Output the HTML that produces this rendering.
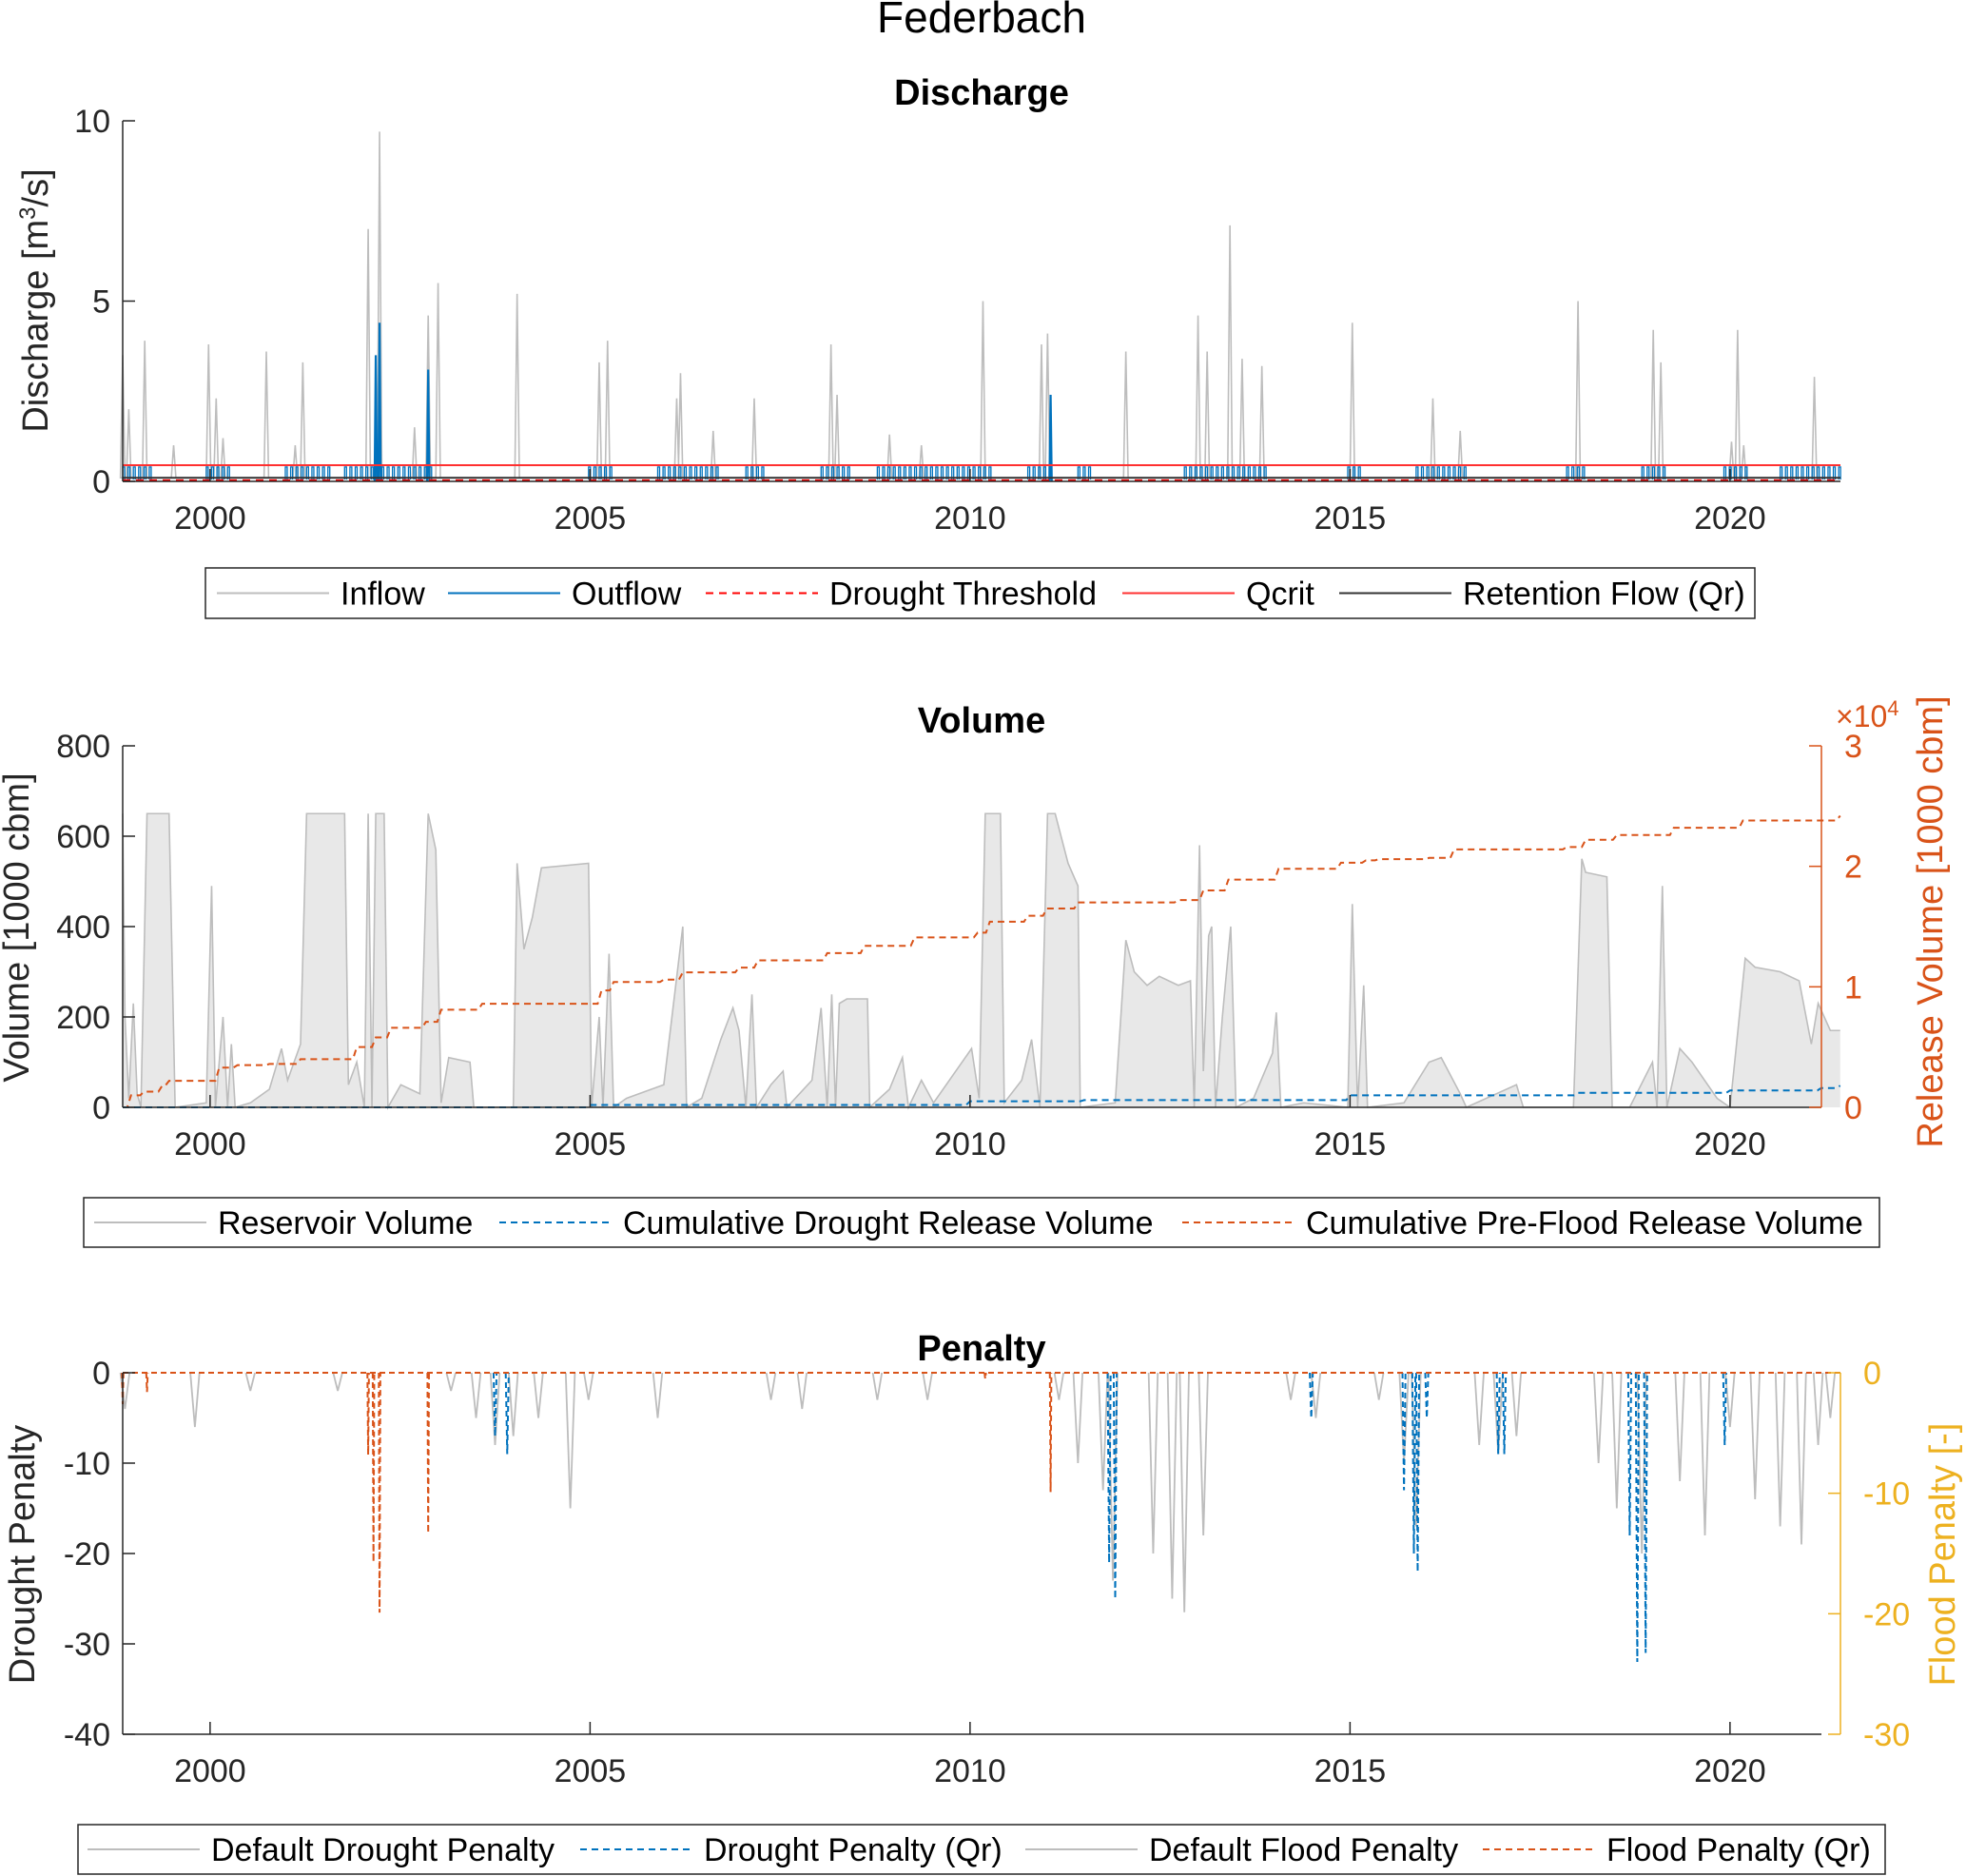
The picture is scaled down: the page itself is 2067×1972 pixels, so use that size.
<!DOCTYPE html>
<html><head><meta charset="utf-8"><style>
html,body{margin:0;padding:0;background:#fff}
svg{display:block;font-family:"Liberation Sans",sans-serif}
</style></head><body>
<svg id="fig" width="2067" height="1972" viewBox="0 0 2067 1972" xmlns="http://www.w3.org/2000/svg">
<text x="1032" y="34" font-size="46" text-anchor="middle">Federbach</text>
<g id="p1"></g>
<g id="p2"></g>
<g id="p3"></g>
</svg>
<script>
// ---------- data ----------
const yearTicks=[2000,2005,2010,2015,2020];
const inflowYears=[1998.85,1998.93,1999.14,1999.52,1999.98,2000.08,2000.17,2000.74,2001.12,2001.22,2002.08,2002.23,2002.69,2002.87,2003.00,2004.04,2005.12,2005.23,2006.14,2006.19,2006.62,2007.16,2008.17,2008.25,2008.94,2009.36,2010.17,2010.94,2011.02,2012.05,2013.00,2013.12,2013.42,2013.58,2013.84,2015.03,2016.09,2016.45,2018.00,2018.99,2019.09,2020.02,2020.10,2020.18,2021.11];
const inflowPeaks=[3.5,2,3.9,1,3.8,2.3,1.2,3.6,1,3.3,7.0,9.7,1.5,4.6,5.5,5.2,3.3,3.9,2.3,3.0,1.4,2.3,3.8,2.4,1.3,1.0,5.0,3.8,4.1,3.6,4.6,3.6,7.1,3.4,3.2,4.4,2.3,1.4,5.0,4.2,3.3,1.1,4.2,1.0,2.9];
const outflowPeakYears=[2002.18,2002.23,2002.87,2011.06];
const outflowPeaks=[3.5,4.4,3.1,2.4];
const outflowStart=[1998.85,1999.95,2000.99,2001.77,2004.98,2005.89,2007.05,2008.04,2008.78,2010.76,2011.42,2012.82,2014.97,2015.87,2017.85,2018.84,2019.92,2020.66];
const outflowEnd=[1999.21,2000.28,2001.55,2002.92,2005.31,2006.72,2007.29,2008.45,2010.26,2011.09,2011.58,2013.89,2015.13,2016.53,2018.10,2019.17,2020.25,2021.45];
const outflowLevel=0.4, qcrit=0.45, retentionFlow=0.1, droughtThreshold=0.03;

const volYears=[1998.85,1998.88,1998.93,1998.99,1999.04,1999.09,1999.17,1999.46,1999.54,1999.95,2000.02,2000.07,2000.17,2000.23,2000.28,2000.33,2000.53,2000.78,2000.94,2001.02,2001.19,2001.27,2001.77,2001.82,2001.93,2002.03,2002.08,2002.13,2002.18,2002.29,2002.34,2002.51,2002.76,2002.87,2002.97,2003.04,2003.14,2003.42,2003.47,2003.99,2004.04,2004.13,2004.24,2004.36,2004.98,2005.02,2005.12,2005.17,2005.25,2005.31,2005.48,2005.97,2006.22,2006.27,2006.47,2006.72,2006.88,2006.96,2007.05,2007.13,2007.19,2007.38,2007.54,2007.59,2007.92,2008.04,2008.12,2008.18,2008.23,2008.28,2008.38,2008.65,2008.68,2008.94,2009.11,2009.19,2009.36,2009.52,2010.02,2010.12,2010.20,2010.40,2010.45,2010.68,2010.81,2010.92,2011.02,2011.12,2011.29,2011.42,2011.45,2011.91,2012.05,2012.16,2012.33,2012.49,2012.74,2012.90,2012.95,2013.02,2013.07,2013.14,2013.18,2013.23,2013.32,2013.43,2013.50,2013.73,2013.98,2014.03,2014.09,2014.39,2014.97,2015.03,2015.10,2015.18,2015.23,2015.71,2016.04,2016.20,2016.45,2016.53,2017.19,2017.28,2017.94,2018.05,2018.10,2018.38,2018.45,2018.68,2018.98,2019.04,2019.11,2019.17,2019.34,2019.50,2019.83,2020.00,2020.08,2020.20,2020.33,2020.66,2020.91,2021.07,2021.16,2021.32,2021.45];
const volValues=[650,200,20,230,30,0,650,650,0,10,490,0,200,0,140,0,10,40,130,60,140,650,650,50,100,0,650,0,650,650,0,50,30,650,570,10,110,100,0,0,540,350,420,530,540,0,200,0,340,0,20,50,400,0,20,150,220,170,0,250,0,50,80,0,60,220,0,250,0,230,240,240,0,40,110,0,60,10,130,20,650,650,10,60,150,0,650,650,540,490,0,10,370,300,270,290,270,280,0,580,80,380,400,0,200,400,0,20,120,210,0,10,0,450,0,270,0,10,100,110,30,0,50,0,0,550,520,510,0,0,100,0,490,0,130,100,20,0,130,330,310,300,280,140,230,170,170];
const floodRelYears=[1998.85,1998.96,1999.13,1999.37,1999.46,2000.12,2000.36,2000.78,2001.19,2001.82,2001.93,2002.18,2002.38,2002.84,2003.04,2003.58,2004.98,2005.15,2005.31,2005.97,2006.22,2006.96,2007.21,2008.12,2008.61,2009.27,2010.10,2010.26,2010.76,2011.01,2011.42,2012.74,2013.07,2013.40,2014.06,2014.88,2015.21,2015.38,2016.04,2016.37,2017.85,2018.10,2018.51,2019.26,2020.17,2021.45];
const floodRelValues=[0,0.1,0.13,0.18,0.22,0.33,0.35,0.36,0.4,0.4,0.5,0.58,0.66,0.71,0.81,0.86,0.86,0.97,1.04,1.06,1.12,1.16,1.22,1.28,1.34,1.41,1.45,1.54,1.59,1.65,1.70,1.72,1.80,1.89,1.98,2.03,2.05,2.06,2.07,2.14,2.16,2.22,2.26,2.32,2.38,2.42];
const droughtRelYears=[1998.85,2005,2010,2011.5,2015,2018,2020,2021.2,2021.45];
const droughtRelValues=[0,0.02,0.05,0.06,0.1,0.12,0.14,0.16,0.18];

const penYears=[1998.88,1999.80,2000.53,2001.68,2003.17,2003.50,2003.75,2003.99,2004.32,2004.74,2004.98,2005.89,2007.38,2007.79,2008.78,2009.44,2011.17,2011.42,2011.75,2011.88,2012.41,2012.66,2012.82,2013.07,2014.22,2014.55,2015.38,2015.71,2015.87,2016.70,2016.95,2017.19,2018.27,2018.51,2018.84,2019.34,2019.67,2020.00,2020.33,2020.66,2020.94,2021.16,2021.32];
const penValues=[-4,-6,-2,-2,-2,-5,-8,-7,-5,-15,-3,-5,-3,-4,-3,-3,-3,-10,-13,-23,-20,-25,-26.5,-18,-3,-5,-3,-10,-17,-8,-9,-7,-10,-15,-20,-12,-18,-6,-14,-17,-19,-8,-5];
const droughtQrYears=[2003.75,2003.91,2011.83,2011.91,2014.49,2015.71,2015.84,2015.89,2016.01,2016.95,2017.03,2018.68,2018.78,2018.89,2019.93];
const droughtQrValues=[-7,-9,-21,-25,-5,-13,-20,-22,-5,-9,-9,-18,-32,-31,-8];
const floodQrYears=[1998.85,1999.17,2002.08,2002.15,2002.23,2002.87,2010.20,2011.06];
const floodQrValues=[-2.6,-1.6,-6.8,-15.7,-19.9,-13.3,-0.5,-9.9];

// ---------- helpers ----------
const NS="http://www.w3.org/2000/svg";
function mk(parent,tag,attrs,text){const e=document.createElementNS(NS,tag);for(const k in attrs)e.setAttribute(k,attrs[k]);if(text!==undefined)e.textContent=text;parent.appendChild(e);return e;}
const X=y=>129+(y-1998.85)*79.9;
const Y1=v=>506-v*37.9;
const Y2=v=>1164-v*380/800;
const Y2r=v=>1164-v*380/3;
const Y3=v=>1443-v*380/40;
const Y3r=v=>1443-v*380/30;
const FS=34;

function xAxis(g,yb,x1){
  const ax=mk(g,'line',{x1:129,y1:yb,x2:x1,y2:yb,stroke:'#262626','stroke-width':1.5});
  
  
  yearTicks.forEach(t=>{
    mk(g,'line',{x1:X(t),y1:yb,x2:X(t),y2:yb-13,stroke:'#262626','stroke-width':1.5});
    const tl=mk(g,'text',{x:X(t),y:yb+50,'font-size':FS,'text-anchor':'middle',fill:'#262626'},String(t));
    
    
  });
}
function yAxisL(g,yt,yb,ticks,f){
  const ax=mk(g,'line',{x1:129,y1:yt,x2:129,y2:yb,stroke:'#262626','stroke-width':1.5});
  
  
  ticks.forEach(t=>{
    mk(g,'line',{x1:129,y1:f(t),x2:142,y2:f(t),stroke:'#262626','stroke-width':1.5});
    const tl=mk(g,'text',{x:116,y:f(t)+12,'font-size':FS,'text-anchor':'end',fill:'#262626'},String(t));
    
    
  });
}
function yAxisR(g,xa,yt,yb,ticks,f,col){
  const ax=mk(g,'line',{x1:xa,y1:yt,x2:xa,y2:yb,stroke:col,'stroke-width':1.5});
  
  
  ticks.forEach(t=>{
    mk(g,'line',{x1:xa,y1:f(t),x2:xa-13,y2:f(t),stroke:col,'stroke-width':1.5});
    const tl=mk(g,'text',{x:xa+24,y:f(t)+12,'font-size':FS,fill:col},String(t));
    
    
  });
}
function label(g,x,y,txt,rot,size,weight,col,name){
  const t=mk(g,'text',{x:x,y:y,'font-size':size,'text-anchor':'middle',fill:col||'#000','font-weight':weight||'normal',transform:rot?`rotate(-90 ${x} ${y})`:''});
  t.innerHTML=txt;
  
  
  return t;
}
function spikes(g,ys,vs,f,w,style,name){
  ys.forEach((y,i)=>{
    const d=`M${X(y-w)},${f(0)} L${X(y)},${f(vs[i])} L${X(y+w)},${f(0)}`;
    const p=mk(g,'path',Object.assign({d:d,fill:'none'},style));
    
    
  });
}
function legend(g,x,y,w,h,items){
  const r=mk(g,'rect',{x:x,y:y,width:w,height:h,fill:'#fff',stroke:'#262626','stroke-width':1.5});
  
  
  const cy=y+h/2;
  items.forEach(it=>{
    const l=mk(g,'line',{x1:it[0],y1:cy,x2:it[0]+118,y2:cy,stroke:it[2],'stroke-width':it[4]||2,'stroke-dasharray':it[3]||''});
    
    
    const t=mk(g,'text',{x:it[0]+130,y:cy+12,'font-size':FS,fill:'#000'},it[1]);
    
    
  });
}

// ---------- panel 1 ----------
const g1=document.getElementById('p1');
label(g1,1032,110,'Discharge',false,38,'bold','#000','discharge-title');
let d='M'+X(1998.85)+','+Y1(0.1);
inflowYears.forEach((y,i)=>{d+=` L${X(y-0.03)},${Y1(0.1)} L${X(y)},${Y1(inflowPeaks[i])} L${X(y+0.03)},${Y1(0.1)}`;});
d+=` L${X(2021.45)},${Y1(0.1)}`;
const inf=mk(g1,'path',{d:d,fill:'none',stroke:'#bdbdbd','stroke-width':1.6});


outflowStart.forEach((s,i)=>{
  let dd='';
  for(let t=s;t<outflowEnd[i];t+=0.07){dd+=`M${X(t)},${Y1(0.05)} L${X(t)},${Y1(outflowLevel)} L${X(t+0.025)},${Y1(outflowLevel)} L${X(t+0.025)},${Y1(0.05)} `;}
  const p=mk(g1,'path',{d:dd,fill:'none',stroke:'#0072BD','stroke-width':1.3});
  
  
});
spikes(g1,outflowPeakYears,outflowPeaks,Y1,0.015,{stroke:'#0072BD','stroke-width':2.2},'outflow-peak');
[[qcrit,'#ff3030','','qcrit-line'],[retentionFlow,'#333','','retention-flow-line'],[droughtThreshold,'#ff0000','8 6','drought-threshold-line']].forEach(a=>{
  const l=mk(g1,'line',{x1:129,y1:Y1(a[0]),x2:1935,y2:Y1(a[0]),stroke:a[1],'stroke-width':2,'stroke-dasharray':a[2]});
  
  
});
yAxisL(g1,127,506,[0,5,10],Y1);
xAxis(g1,506,1935);
label(g1,50,316,'Discharge [m<tspan baseline-shift="super" font-size="24">3</tspan>/s]',true,38,'normal','#262626','discharge-y-axis-title');
legend(g1,216,597,1629,53,[[228,'Inflow','#bdbdbd'],[471,'Outflow','#0072BD'],[742,'Drought Threshold','#ff0000','8 6'],[1180,'Qcrit','#ff3030'],[1408,'Retention Flow (Qr)','#333']]);

// ---------- panel 2 ----------
const g2=document.getElementById('p2');
label(g2,1032,770,'Volume',false,38,'bold','#000','volume-title');
let da='M'+X(volYears[0])+','+Y2(0);
volYears.forEach((y,i)=>{da+=` L${X(y)},${Y2(volValues[i])}`;});
const area=mk(g2,'path',{d:da+` L${X(volYears[volYears.length-1])},${Y2(0)} Z`,fill:'#e8e8e8',stroke:'none'});


const vl=mk(g2,'path',{d:da.replace('M'+X(volYears[0])+','+Y2(0)+' L','M'),fill:'none',stroke:'#bdbdbd','stroke-width':1.6});


function stepLine(g,ys,vs,f,col,name){
  let s='M'+X(ys[0])+','+f(vs[0]);
  for(let i=1;i<ys.length;i++){s+=` L${X(ys[i]-0.05)},${f(vs[i-1])} L${X(ys[i])},${f(vs[i])}`;}
  const p=mk(g,'path',{d:s,fill:'none',stroke:col,'stroke-width':2,'stroke-dasharray':'7 5'});
  
  
}
stepLine(g2,floodRelYears,floodRelValues,Y2r,'#D95319','cumulative-preflood-release-line');
stepLine(g2,droughtRelYears,droughtRelValues,Y2r,'#0072BD','cumulative-drought-release-line');
yAxisL(g2,784,1164,[0,200,400,600,800],Y2);
xAxis(g2,1164,1915);
yAxisR(g2,1915,784,1164,[0,1,2,3],Y2r,'#D95319');
const ex=mk(g2,'text',{x:1930,y:764,'font-size':32,fill:'#D95319'});
ex.innerHTML='×10<tspan baseline-shift="super" font-size="22">4</tspan>';


label(g2,30,975,'Volume [1000 cbm]',true,38,'normal','#262626','volume-y-axis-title');
label(g2,2042,969,'Release Volume [1000 cbm]',true,38,'normal','#D95319','release-volume-y-axis-title');
legend(g2,88,1259,1888,52,[[99,'Reservoir Volume','#bdbdbd'],[525,'Cumulative Drought Release Volume','#0072BD','7 5'],[1243,'Cumulative Pre-Flood Release Volume','#D95319','7 5']]);

// ---------- panel 3 ----------
const g3=document.getElementById('p3');
label(g3,1032,1430,'Penalty',false,38,'bold','#000','penalty-title');
spikes(g3,penYears,penValues,Y3,0.06,{stroke:'#bdbdbd','stroke-width':1.8},'default-drought-penalty-spike');
spikes(g3,droughtQrYears,droughtQrValues,Y3,0.02,{stroke:'#0072BD','stroke-width':2,'stroke-dasharray':'6 4'},'drought-penalty-qr-spike');
spikes(g3,floodQrYears,floodQrValues,Y3r,0.01,{stroke:'#D95319','stroke-width':2,'stroke-dasharray':'6 4'},'flood-penalty-qr-spike');
const z=mk(g3,'line',{x1:129,y1:Y3(0),x2:1935,y2:Y3(0),stroke:'#D95319','stroke-width':2,'stroke-dasharray':'6 4'});


yAxisL(g3,1443,1823,[-40,-30,-20,-10,0],Y3);
xAxis(g3,1823,1915);
yAxisR(g3,1935,1443,1823,[-30,-20,-10,0],Y3r,'#EDB120');
label(g3,36,1634,'Drought Penalty',true,38,'normal','#262626','drought-penalty-y-axis-title');
label(g3,2055,1634,'Flood Penalty [-]',true,38,'normal','#EDB120','flood-penalty-y-axis-title');
legend(g3,82,1918,1900,52,[[92,'Default Drought Penalty','#bdbdbd'],[610,'Drought Penalty (Qr)','#0072BD','7 5'],[1078,'Default Flood Penalty','#bdbdbd'],[1559,'Flood Penalty (Qr)','#D95319','7 5']]);
</script>
</body></html>
